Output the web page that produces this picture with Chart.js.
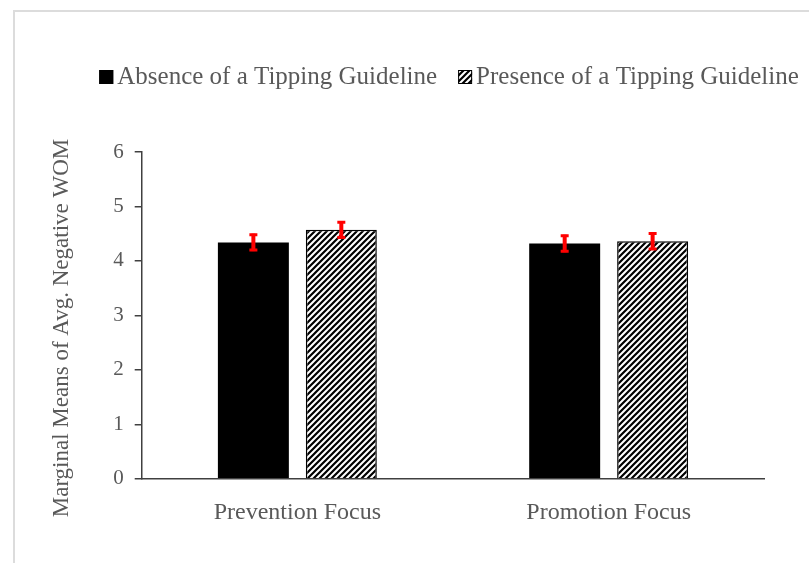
<!DOCTYPE html>
<html>
<head>
<meta charset="utf-8">
<title>Marginal Means of Avg. Negative WOM</title>
<script src="https://cdn.jsdelivr.net/npm/chart.js@4.4.1/dist/chart.umd.min.js"></script>
<style>
  html, body { margin: 0; padding: 0; background: #fff; overflow: hidden; }
  #frame { position: absolute; left: 13px; top: 10px; width: 830px; height: 600px;
           border-left: 2px solid #dcdcdc; border-top: 2px solid #dcdcdc; }
  #wrap { position: absolute; left: 0; top: 0; width: 809px; height: 563px; }
</style>
</head>
<body>
<div id="frame"></div>
<div id="wrap"><canvas id="chart1" width="809" height="563"></canvas></div>
<script>
// data
var categories = ["Prevention Focus", "Promotion Focus"];
var seriesNames = ["Absence of a Tipping Guideline", "Presence of a Tipping Guideline"];
var absenceMeans = [4.34, 4.32];
var presenceMeans = [4.57, 4.36];
var absenceErrors = [0.16, 0.16];
var presenceErrors = [0.16, 0.16];
var yTitle = "Marginal Means of Avg. Negative WOM";

var serif = "'Liberation Serif', 'Times New Roman', serif";
var textGray = "#595959";
var axisGray = "#404040";

function makeHatch(ctx) {
    var c = document.createElement('canvas');
    c.width = 6; c.height = 6;
    var g = c.getContext('2d');
    g.fillStyle = '#fff';
    g.fillRect(0, 0, 6, 6);
    g.strokeStyle = '#000';
    g.lineWidth = 2.2;
    g.beginPath();
    g.moveTo(-1, 7); g.lineTo(7, -1);
    g.moveTo(-7, 7); g.lineTo(1, -1);
    g.moveTo(5, 7); g.lineTo(13, -1);
    g.stroke();
    return ctx.createPattern(c, 'repeat');
}

var ctx = document.getElementById("chart1").getContext('2d');
var hatch = makeHatch(ctx);

var errorBars = {
    id: 'errorBars',
    afterDatasetsDraw: function(chart) {
        var c = chart.ctx;
        var ys = chart.scales.y;
        chart.data.datasets.forEach(function(ds, i) {
            var meta = chart.getDatasetMeta(i);
            meta.data.forEach(function(bar, j) {
                var v = ds.data[j], e = ds.errors[j];
                var top = ys.getPixelForValue(v + e);
                var bot = ys.getPixelForValue(v - e);
                c.save();
                c.strokeStyle = '#ff0000';
                c.lineWidth = 4;
                c.beginPath();
                c.moveTo(bar.x, top); c.lineTo(bar.x, bot);
                c.stroke();
                c.lineWidth = 3;
                c.beginPath();
                c.moveTo(bar.x - 4, top + 1); c.lineTo(bar.x + 4, top + 1);
                c.moveTo(bar.x - 4, bot - 1); c.lineTo(bar.x + 4, bot - 1);
                c.stroke();
                c.restore();
            });
        });
    }
};

var sideText = {
    id: 'sideText',
    afterDraw: function(chart) {
        var c = chart.ctx;
        c.save();
        // y axis title
        c.font = "23px " + serif;
        c.fillStyle = textGray;
        c.textAlign = 'center';
        c.textBaseline = 'middle';
        c.translate(62, 328);
        c.rotate(-Math.PI / 2);
        c.fillText(yTitle, 0, 0);
        c.restore();

        // legend
        c.save();
        c.font = "25px " + serif;
        c.textBaseline = 'middle';
        c.textAlign = 'left';
        var box = 14, gap = 4, spacing = 21;
        var widths = chart.data.datasets.map(function(ds) { return c.measureText(ds.label).width; });
        var total = widths[0] + widths[1] + 2 * (box + gap) + spacing;
        var x = 449 - total / 2, y = 77;
        chart.data.datasets.forEach(function(ds, i) {
            c.fillStyle = ds.backgroundColor;
            c.fillRect(x, y - box / 2, box, box);
            c.strokeStyle = '#000';
            c.lineWidth = 1;
            c.strokeRect(x + 0.5, y - box / 2 + 0.5, box - 1, box - 1);
            c.fillStyle = textGray;
            c.fillText(ds.label, x + box + gap, y);
            x += box + gap + widths[i] + spacing;
        });
        c.restore();
    }
};

var myBarChart = new Chart(ctx, {
    type: 'bar',
    data: {
        labels: categories,
        datasets: [{
            label: seriesNames[0],
            data: absenceMeans,
            errors: absenceErrors,
            backgroundColor: '#000000',
            borderWidth: 0
        }, {
            label: seriesNames[1],
            data: presenceMeans,
            errors: presenceErrors,
            backgroundColor: hatch,
            borderColor: '#000000',
            borderWidth: 1.5
        }]
    },
    options: {
        responsive: false,
        animation: false,
        categoryPercentage: 0.565,
        barPercentage: 0.807,
        layout: { padding: { top: 152, right: 44.7, left: 0, bottom: 0 } },
        plugins: {
            legend: { display: false },
            tooltip: { enabled: false }
        },
        scales: {
            x: {
                grid: { display: false },
                border: { display: true, color: axisGray, width: 1.5 },
                ticks: { color: textGray, font: { family: serif, size: 24 }, padding: 12 },
                afterFit: function(scale) { scale.height = 84.3; }
            },
            y: {
                min: 0,
                max: 6,
                ticks: { stepSize: 1, color: textGray, font: { family: serif, size: 21 }, padding: 11 },
                grid: { display: true, drawOnChartArea: false, drawTicks: true, tickLength: 7, color: axisGray, lineWidth: 1.5 },
                border: { display: true, color: axisGray, width: 1.5 },
                afterFit: function(scale) { scale.width = 141.7; }
            }
        }
    },
    plugins: [errorBars, sideText]
});
</script>
</body>
</html>
